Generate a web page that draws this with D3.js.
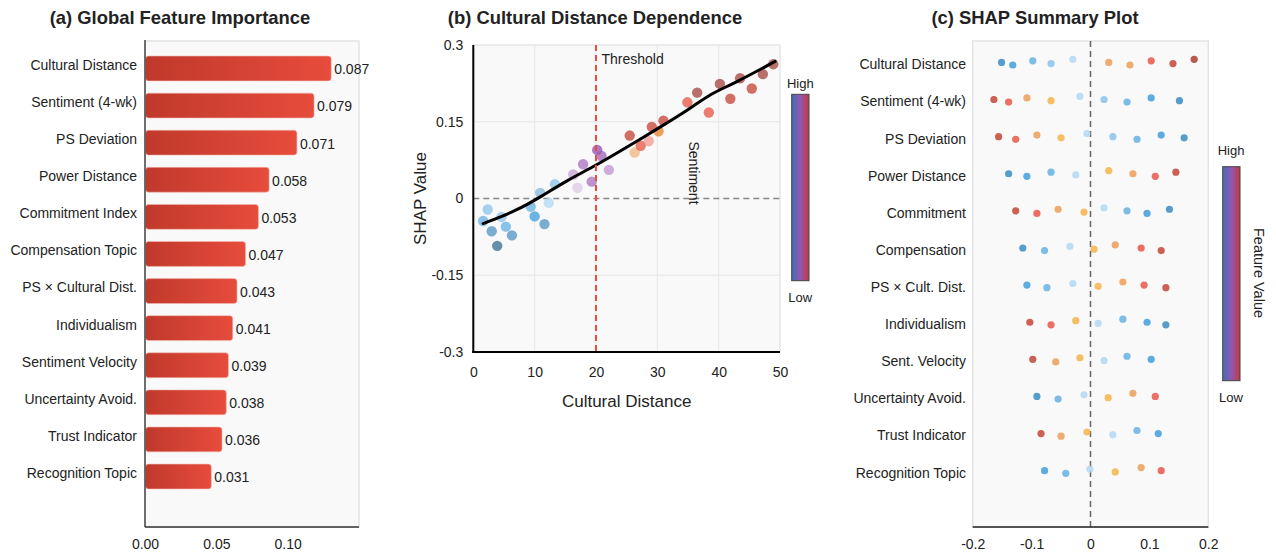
<!DOCTYPE html>
<html>
<head>
<meta charset="utf-8">
<script src="https://cdn.jsdelivr.net/npm/d3@7"></script>
<style>
  html, body { margin: 0; padding: 0; background: #ffffff; }
  svg { display: block; }
  text { font-family: "Liberation Sans", Arial, Helvetica, sans-serif; fill: #222; }
</style>
</head>
<body>
<svg id="chart" width="1276" height="554"></svg>
<script>
// ---------------- DATA ----------------
// (a) Global feature importance
const barCategories = ["Cultural Distance", "Sentiment (4-wk)", "PS Deviation", "Power Distance",
  "Commitment Index", "Compensation Topic", "PS \u00d7 Cultural Dist.", "Individualism",
  "Sentiment Velocity", "Uncertainty Avoid.", "Trust Indicator", "Recognition Topic"];
const barValues = [0.087, 0.079, 0.071, 0.058, 0.053, 0.047, 0.043, 0.041, 0.039, 0.038, 0.036, 0.031];
const barTickValues = [0, 0.05, 0.10];

// (b) Cultural distance dependence
const depX = [1.6, 2.35, 3.0, 3.9, 4.6, 5.3, 6.3, 9.35, 10.0, 10.9, 11.6, 12.3, 13.3,
  16.3, 17.0, 17.9, 19.3, 20.2, 20.9, 22.1,
  25.5, 26.3, 27.3, 28.6, 29.1, 30.2, 31.0, 34.9, 36.5, 38.4, 40.2, 41.9, 43.5, 45.4, 47.2, 48.9];
const depY = [-0.044, -0.0215, -0.064, -0.0925, -0.036, -0.055, -0.072, -0.016, -0.035, 0.011, -0.05, -0.0085, 0.028,
  0.047, 0.021, 0.067, 0.033, 0.095, 0.083, 0.056,
  0.123, 0.09, 0.103, 0.112, 0.140, 0.1315, 0.152, 0.188, 0.207, 0.168, 0.224, 0.195, 0.235, 0.215, 0.243, 0.2625];
const depTone = ["b1", "b2", "b3", "b4", "b2", "b1", "b3", "b1", "b6", "b7", "b3", "b5", "b2",
  "p1", "p2", "p3", "p3", "p4", "p6", "p5",
  "r1", "r2", "r3", "r4", "r1", "r5", "r1", "r3", "r6", "r8", "r6", "r7", "r6", "r7", "r6", "r6"];
const fitX = [1.6, 7.1, 10.9, 15.2, 20.0, 25.0, 30.4, 35.3, 38.6, 42.4, 49.2];
const fitY = [-0.049, -0.0235, 0.0026, 0.035, 0.0645, 0.100, 0.139, 0.175, 0.2045, 0.224, 0.268];
const depXTicks = [0, 10, 20, 30, 40, 50];
const depYTicks = [-0.3, -0.15, 0, 0.15, 0.3];
const thresholdValue = 20;

// (c) SHAP summary
const summaryCategories = ["Cultural Distance", "Sentiment (4-wk)", "PS Deviation", "Power Distance",
  "Commitment", "Compensation", "PS \u00d7 Cult. Dist.", "Individualism",
  "Sent. Velocity", "Uncertainty Avoid.", "Trust Indicator", "Recognition Topic"];
const summaryValues = [
  [-0.151, -0.132, -0.098, -0.067, -0.030, 0.031, 0.067, 0.103, 0.140, 0.176],
  [-0.164, -0.139, -0.108, -0.067, -0.018, 0.023, 0.062, 0.103, 0.151],
  [-0.156, -0.127, -0.091, -0.050, -0.006, 0.038, 0.079, 0.120, 0.159],
  [-0.139, -0.108, -0.067, -0.025, 0.031, 0.072, 0.110, 0.145],
  [-0.127, -0.091, -0.055, -0.011, 0.023, 0.062, 0.096, 0.134],
  [-0.115, -0.078, -0.035, 0.006, 0.042, 0.086, 0.120],
  [-0.108, -0.074, -0.030, 0.013, 0.055, 0.091, 0.128],
  [-0.103, -0.067, -0.025, 0.013, 0.055, 0.096, 0.128],
  [-0.098, -0.059, -0.018, 0.023, 0.062, 0.103],
  [-0.091, -0.055, -0.011, 0.030, 0.072, 0.110],
  [-0.084, -0.050, -0.006, 0.038, 0.079, 0.115],
  [-0.078, -0.042, -0.001, 0.042, 0.086, 0.120]
];
// feature-value level of each dot: 0 = lowest (dark blue) ... 9 = highest (dark red)
const summaryLevels = [
  [0, 1, 2, 3, 4, 6, 6, 7, 8, 9],
  [8, 7, 6, 5, 4, 3, 2, 1, 0],
  [8, 7, 6, 5, 4, 3, 2, 1, 0],
  [0, 1, 2, 4, 5, 6, 7, 8],
  [8, 7, 6, 5, 4, 2, 1, 0],
  [0, 2, 4, 5, 6, 7, 8],
  [1, 2, 4, 5, 6, 7, 8],
  [8, 7, 5, 4, 2, 1, 0],
  [8, 6, 5, 4, 2, 1],
  [0, 2, 4, 5, 6, 7],
  [8, 6, 5, 4, 2, 1],
  [1, 2, 4, 5, 6, 7]
];
const summaryXTicks = [-0.2, -0.1, 0, 0.1, 0.2];

// ---------------- DRAWING ----------------
const svg = d3.select("#chart");
const defs = svg.append("defs");
const FS = 14;      // body font size
const TFS = 18.4;   // title font size
const AFS = 17;     // axis title font size

const barGrad = defs.append("linearGradient").attr("id", "barGrad")
  .attr("x1", "0%").attr("x2", "100%").attr("y1", "0%").attr("y2", "0%");
barGrad.append("stop").attr("offset", "0%").attr("stop-color", "#c0392b");
barGrad.append("stop").attr("offset", "100%").attr("stop-color", "#e74c3c");

const cbGrad = defs.append("linearGradient").attr("id", "cbGrad")
  .attr("x1", "0%").attr("x2", "100%").attr("y1", "0%").attr("y2", "0%");
cbGrad.append("stop").attr("offset", "0%").attr("stop-color", "#3f6fb5");
cbGrad.append("stop").attr("offset", "50%").attr("stop-color", "#9457b2");
cbGrad.append("stop").attr("offset", "100%").attr("stop-color", "#c0393f");

function title(x, y, t) {
  svg.append("text").attr("x", x).attr("y", y).attr("text-anchor", "middle")
    .attr("font-size", TFS).attr("font-weight", "bold").attr("fill", "#111").text(t);
}

// ===== Panel (a) =====
{
  const L = 145, R = 359, T = 41, B = 527;
  svg.append("rect").attr("x", L).attr("y", T).attr("width", R - L).attr("height", B - T)
    .attr("fill", "#f9f9f9").attr("stroke", "#e3e3e3").attr("stroke-width", 1.5);

  const xBar = d3.scaleLinear().domain([0, 0.1]).range([L, R]);
  const xAxisScale = d3.scaleLinear().domain([0, 0.15]).range([L, R]);
  const y = d3.scaleBand().domain(barCategories).range([43.8, 501.2]).paddingInner(0.33).paddingOuter(0.33);

  svg.append("g").selectAll("rect").data(barCategories).join("rect")
    .attr("x", L + 0.5)
    .attr("y", d => y(d))
    .attr("width", (d, i) => xBar(barValues[i]) - L - 0.5)
    .attr("height", y.bandwidth())
    .attr("rx", 3).attr("ry", 3)
    .attr("fill", "url(#barGrad)")
    .attr("stroke", "#f2b8b0").attr("stroke-width", 0.6);

  svg.append("g").selectAll("text").data(barCategories).join("text")
    .attr("x", (d, i) => xBar(barValues[i]) + 3)
    .attr("y", d => y(d) + y.bandwidth() / 2 + 1)
    .attr("dy", "0.35em").attr("font-size", FS)
    .text((d, i) => barValues[i].toFixed(3));

  svg.append("g").selectAll("text").data(barCategories).join("text")
    .attr("x", 137).attr("y", d => y(d) + y.bandwidth() / 2 - 3.5)
    .attr("dy", "0.35em").attr("text-anchor", "end").attr("font-size", FS)
    .text(d => d);

  svg.append("line").attr("x1", L).attr("x2", L).attr("y1", T - 1).attr("y2", B)
    .attr("stroke", "#444").attr("stroke-width", 1.5);

  const ax = svg.append("g").attr("transform", `translate(0,${B})`)
    .call(d3.axisBottom(xAxisScale).tickValues(barTickValues).tickFormat(d3.format(".2f")).tickSize(0).tickPadding(12));
  ax.select(".domain").remove();
  ax.selectAll("text").attr("font-size", FS).attr("fill", "#222")
    .attr("font-family", "Liberation Sans, Arial, sans-serif");
  svg.append("line").attr("x1", L).attr("x2", R).attr("y1", B).attr("y2", B)
    .attr("stroke", "#333").attr("stroke-width", 1.5);

  title(180, 24, "(a) Global Feature Importance");
}

// ===== Panel (b) =====
{
  const L = 473.3, R = 780, T = 45, B = 352;
  svg.append("rect").attr("x", L).attr("y", T).attr("width", R - L).attr("height", B - T)
    .attr("fill", "#f9f9f9").attr("stroke", "#e6e6e6").attr("stroke-width", 1.5);

  const x = d3.scaleLinear().domain([0, 50]).range([L, R]);
  const y = d3.scaleLinear().domain([-0.3, 0.3]).range([B, T]);

  // grid
  svg.append("g").selectAll("line").data(depXTicks.slice(1, -1)).join("line")
    .attr("x1", d => x(d)).attr("x2", d => x(d)).attr("y1", T).attr("y2", B)
    .attr("stroke", "#e6e6e6").attr("stroke-width", 1);
  svg.append("g").selectAll("line").data(depYTicks.filter(v => v !== 0 && Math.abs(v) < 0.3)).join("line")
    .attr("x1", L).attr("x2", R).attr("y1", d => y(d)).attr("y2", d => y(d))
    .attr("stroke", "#e6e6e6").attr("stroke-width", 1);

  // zero line
  svg.append("line").attr("x1", L).attr("x2", R).attr("y1", y(0)).attr("y2", y(0))
    .attr("stroke", "#888").attr("stroke-width", 1.5).attr("stroke-dasharray", "6,4");

  // points
  const tones = {
    b1: "#5dade2", b2: "#85c1e9", b3: "#4a8fbf", b4: "#2e6488", b5: "#aed6f1", b6: "#3498db", b7: "#7fb3d5",
    p1: "#c39bd3", p2: "#dcc6e6", p3: "#a569bd", p4: "#8e44ad", p5: "#bb8fce", p6: "#9b59b6",
    r1: "#c0392b", r2: "#f0b27a", r3: "#e74c3c", r4: "#f1948a", r5: "#e67e22", r6: "#9c3a33", r7: "#c0392b", r8: "#e74c3c"
  };
  svg.append("g").selectAll("circle").data(depX).join("circle")
    .attr("cx", d => x(d)).attr("cy", (d, i) => y(depY[i])).attr("r", 5.2)
    .attr("fill", (d, i) => tones[depTone[i]]).attr("fill-opacity", 0.72);

  // fit line
  const line = d3.line().x(d => x(d[0])).y(d => y(d[1])).curve(d3.curveBasis);
  svg.append("path").datum(fitX.map((v, i) => [v, fitY[i]])).attr("d", line)
    .attr("fill", "none").attr("stroke", "#000").attr("stroke-width", 3).attr("stroke-linecap", "round");

  // threshold
  svg.append("line").attr("x1", x(thresholdValue)).attr("x2", x(thresholdValue)).attr("y1", T).attr("y2", B)
    .attr("stroke", "#e74c3c").attr("stroke-width", 2).attr("stroke-dasharray", "6,4");
  svg.append("text").attr("x", x(thresholdValue) + 5.5).attr("y", 63.5).attr("font-size", FS).text("Threshold");

  svg.append("text").attr("transform", `translate(689,173) rotate(90)`).attr("text-anchor", "middle")
    .attr("font-size", FS).text("Sentiment");

  // axes
  const ax = svg.append("g").attr("transform", `translate(0,${B})`)
    .call(d3.axisBottom(x).tickValues(depXTicks).tickFormat(d3.format("d")).tickSize(0).tickPadding(15));
  ax.select(".domain").remove();
  ax.selectAll("text").attr("font-size", FS).attr("fill", "#222");
  const ay = svg.append("g").attr("transform", `translate(${L},0)`)
    .call(d3.axisLeft(y).tickValues(depYTicks).tickFormat(d => d === 0 ? "0" : String(d)).tickSize(0).tickPadding(10));
  ay.select(".domain").remove();
  ay.selectAll("text").attr("font-size", FS).attr("fill", "#222");

  svg.append("line").attr("x1", L).attr("x2", L).attr("y1", T).attr("y2", B + 1)
    .attr("stroke", "#000").attr("stroke-width", 2);
  svg.append("line").attr("x1", L - 1).attr("x2", R).attr("y1", B).attr("y2", B)
    .attr("stroke", "#000").attr("stroke-width", 2);

  svg.append("text").attr("x", (L + R) / 2).attr("y", 407).attr("text-anchor", "middle")
    .attr("font-size", AFS).text("Cultural Distance");
  svg.append("text").attr("transform", `translate(426,${(T + B) / 2}) rotate(-90)`).attr("text-anchor", "middle")
    .attr("font-size", AFS).text("SHAP Value");

  // colorbar
  svg.append("rect").attr("x", 791.7).attr("y", 94.3).attr("width", 17.3).attr("height", 186.4)
    .attr("fill", "url(#cbGrad)").attr("stroke", "#444").attr("stroke-width", 1);
  svg.append("text").attr("x", 800.3).attr("y", 88).attr("text-anchor", "middle").attr("font-size", 13).text("High");
  svg.append("text").attr("x", 800.3).attr("y", 302).attr("text-anchor", "middle").attr("font-size", 13).text("Low");

  title(595, 24, "(b) Cultural Distance Dependence");
}

// ===== Panel (c) =====
{
  const L = 972.7, R = 1208.3, T = 41, B = 527;
  svg.append("rect").attr("x", L).attr("y", T).attr("width", R - L).attr("height", B - T)
    .attr("fill", "#f9f9f9").attr("stroke", "#e3e3e3").attr("stroke-width", 1.5);

  const x = d3.scaleLinear().domain([-0.2, 0.2]).range([L, R]);
  const y = d3.scalePoint().domain(summaryCategories).range([62.4, 470.7]);
  const levelColors = ["#2e86c1", "#3498db", "#5dade2", "#85c1e9", "#aed6f1",
    "#f5b041", "#eb984e", "#e74c3c", "#c0392b", "#a93226"];
  const color = d3.scaleOrdinal().domain(d3.range(10)).range(levelColors);
  const jitter = [0, 2.6, -1.6, 1.2, -3.1];

  svg.append("line").attr("x1", x(0)).attr("x2", x(0)).attr("y1", T).attr("y2", B)
    .attr("stroke", "#666").attr("stroke-width", 1.5).attr("stroke-dasharray", "6,4");

  const dots = [];
  summaryCategories.forEach((c, r) => {
    summaryValues[r].forEach((v, j) => dots.push({ c, v, lvl: summaryLevels[r][j], j }));
  });
  svg.append("g").selectAll("circle").data(dots).join("circle")
    .attr("cx", d => x(d.v)).attr("cy", d => y(d.c) + jitter[d.j % 5]).attr("r", 3.6)
    .attr("fill", d => color(d.lvl)).attr("fill-opacity", 0.8);

  svg.append("g").selectAll("text").data(summaryCategories).join("text")
    .attr("x", 966).attr("y", d => y(d) + 2).attr("dy", "0.35em").attr("text-anchor", "end")
    .attr("font-size", FS).text(d => d);

  const ax = svg.append("g").attr("transform", `translate(0,${B})`)
    .call(d3.axisBottom(x).tickValues(summaryXTicks).tickFormat(d => d === 0 ? "0" : String(d)).tickSize(0).tickPadding(12));
  ax.select(".domain").remove();
  ax.selectAll("text").attr("font-size", FS).attr("fill", "#222");
  svg.append("line").attr("x1", L).attr("x2", R).attr("y1", B).attr("y2", B)
    .attr("stroke", "#222").attr("stroke-width", 1.5);

  // colorbar
  svg.append("rect").attr("x", 1222.7).attr("y", 166.7).attr("width", 17.3).attr("height", 214)
    .attr("fill", "url(#cbGrad)").attr("stroke", "#444").attr("stroke-width", 1);
  svg.append("text").attr("x", 1231).attr("y", 155).attr("text-anchor", "middle").attr("font-size", 13).text("High");
  svg.append("text").attr("x", 1231).attr("y", 402).attr("text-anchor", "middle").attr("font-size", 13).text("Low");
  svg.append("text").attr("transform", `translate(1254,273) rotate(90)`).attr("text-anchor", "middle")
    .attr("font-size", 14.5).text("Feature Value");

  title(1035, 24, "(c) SHAP Summary Plot");
}
</script>
</body>
</html>
